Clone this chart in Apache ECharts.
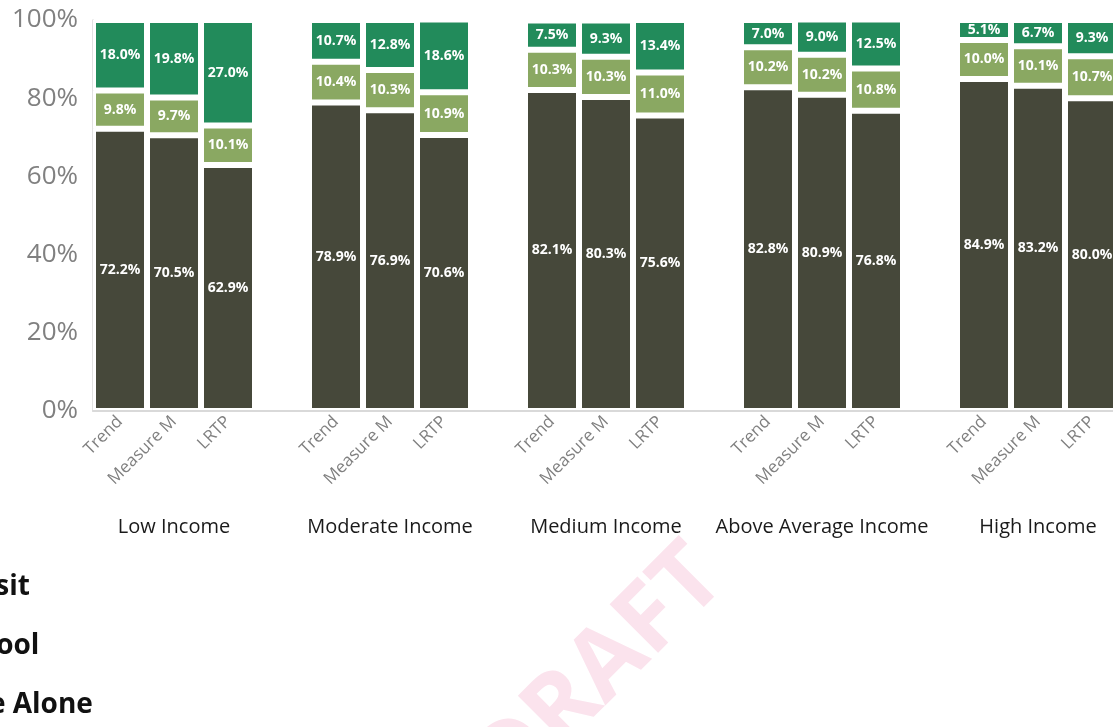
<!DOCTYPE html>
<html>
<head>
<meta charset="utf-8">
<script src="https://cdn.jsdelivr.net/npm/echarts@6/dist/echarts.min.js"></script>
<style>
  html, body { margin: 0; padding: 0; background: #ffffff; }
  #chart { width: 1113px; height: 727px; }
</style>
</head>
<body>
<div id="chart"></div>
<script>
// ---- data ----
var groups = ['Low Income', 'Moderate Income', 'Medium Income', 'Above Average Income', 'High Income'];
var scenarios = ['Trend', 'Measure M', 'LRTP'];
// values per group, in scenario order (Trend, Measure M, LRTP)
var driveAlone = [72.2, 70.5, 62.9,  78.9, 76.9, 70.6,  82.1, 80.3, 75.6,  82.8, 80.9, 76.8,  84.9, 83.2, 80.0];
var carpool    = [ 9.8,  9.7, 10.1,  10.4, 10.3, 10.9,  10.3, 10.3, 11.0,  10.2, 10.2, 10.8,  10.0, 10.1, 10.7];
var transit    = [18.0, 19.8, 27.0,  10.7, 12.8, 18.6,   7.5,  9.3, 13.4,   7.0,  9.0, 12.5,   5.1,  6.7,  9.3];
var yTicks = [0, 20, 40, 60, 80, 100];

// ---- build slotted category axis (3 bars + 1 gap per group) ----
var cats = [], groupLabels = [];
function slotted(arr) {
  var out = [];
  for (var g = 0; g < groups.length; g++) {
    for (var s = 0; s < scenarios.length; s++) out.push(arr[g * scenarios.length + s]);
    out.push('-');
  }
  return out;
}
for (var g = 0; g < groups.length; g++) {
  for (var s = 0; s < scenarios.length; s++) {
    cats.push(scenarios[s]);
    groupLabels.push(s === 1 ? groups[g] : '');
  }
  cats.push('');
  groupLabels.push('');
}

var FONT = '"Open Sans", "Noto Sans", sans-serif';
var labelCfg = {
  show: true,
  position: 'inside',
  color: '#ffffff',
  fontWeight: 'bold',
  fontSize: 14,
  fontFamily: FONT,
  formatter: function (p) { return Number(p.value).toFixed(1) + '%'; }
};
function mkSeries(name, data, color) {
  return {
    name: name,
    type: 'bar',
    stack: 'total',
    xAxisIndex: 0,
    barWidth: '100%',
    barCategoryGap: 0,
    data: slotted(data),
    itemStyle: { color: color, borderColor: '#ffffff', borderWidth: 3 },
    label: labelCfg,
    emphasis: { disabled: true }
  };
}

var chart = echarts.init(document.getElementById('chart'));
chart.setOption({
  animation: false,
  backgroundColor: '#ffffff',
  textStyle: { fontFamily: FONT },
  grid: { left: 93, top: 20, height: 391, width: 1080, outerBoundsMode: 'none', containLabel: false },
  legend: {
    orient: 'vertical',
    left: -100,
    top: 570,
    padding: 0,
    itemWidth: 25,
    itemHeight: 14,
    itemGap: 25,
    data: ['Transit', 'Carpool', 'Drive Alone'],
    textStyle: { fontSize: 28, fontWeight: 'bold', color: '#111111', fontFamily: FONT, lineHeight: 34 }
  },
  xAxis: [
    {
      type: 'category',
      data: cats,
      z: 5,
      axisLine: { show: true, lineStyle: { color: '#d9d9d9', width: 2 } },
      axisTick: { show: false },
      axisLabel: { interval: 0, rotate: 45, margin: 8, fontSize: 17, color: '#808080', fontFamily: FONT }
    },
    {
      type: 'category',
      data: groupLabels,
      position: 'bottom',
      axisLine: { show: false },
      axisTick: { show: false },
      axisLabel: { interval: 0, margin: 106, fontSize: 20, color: '#1a1a1a', fontFamily: FONT }
    }
  ],
  yAxis: {
    type: 'value',
    min: yTicks[0],
    max: yTicks[yTicks.length - 1],
    interval: yTicks[1] - yTicks[0],
    axisLine: { show: true, lineStyle: { color: '#d9d9d9', width: 1.5 } },
    axisTick: { show: false },
    splitLine: { show: false },
    axisLabel: { margin: 15, fontSize: 26, color: '#808080', fontFamily: FONT, formatter: '{value}%' }
  },
  graphic: [{
    type: 'text',
    x: 600,
    y: 672,
    rotation: Math.PI / 4,
    z: -10,
    silent: true,
    style: {
      text: 'DRAFT',
      fontSize: 96,
      fontWeight: 'bold',
      fontFamily: FONT,
      fill: '#fbe3ed',
      align: 'center',
      verticalAlign: 'middle'
    }
  }],
  series: [
    mkSeries('Drive Alone', driveAlone, '#46483a'),
    mkSeries('Carpool', carpool, '#8aa862'),
    mkSeries('Transit', transit, '#228b5b')
  ]
});
</script>
</body>
</html>
